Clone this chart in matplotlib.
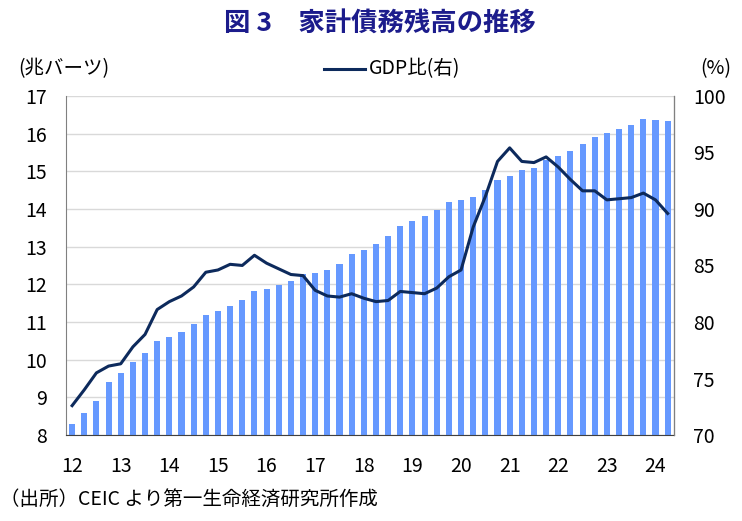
import numpy as np
import matplotlib.pyplot as plt

plt.rcParams['font.family'] = ['Noto Sans CJK JP', 'DejaVu Sans']

# quarterly, 2012Q1 - 2024Q2
debt = [8.28, 8.59, 8.89, 9.42, 9.64, 9.94, 10.17, 10.50, 10.61, 10.74,
        10.94, 11.19, 11.30, 11.43, 11.58, 11.82, 11.88, 11.99, 12.10, 12.27,
        12.30, 12.38, 12.55, 12.80, 12.90, 13.06, 13.27, 13.55, 13.68, 13.80,
        13.96, 14.19, 14.24, 14.31, 14.50, 14.76, 14.87, 15.03, 15.09, 15.30,
        15.41, 15.54, 15.73, 15.92, 16.01, 16.12, 16.23, 16.39, 16.36, 16.34]
gdp_ratio = [72.6, 74.0, 75.5, 76.1, 76.3, 77.8, 78.9, 81.1, 81.8, 82.3,
             83.1, 84.4, 84.6, 85.1, 85.0, 85.9, 85.2, 84.7, 84.2, 84.1,
             82.8, 82.3, 82.2, 82.5, 82.1, 81.8, 81.9, 82.7, 82.6, 82.5,
             83.0, 84.0, 84.6, 88.4, 91.1, 94.2, 95.4, 94.2, 94.1, 94.6,
             93.7, 92.6, 91.6, 91.6, 90.8, 90.9, 91.0, 91.4, 90.8, 89.6]
year_labels = ['12', '13', '14', '15', '16', '17', '18', '19', '20', '21', '22', '23', '24']

x = np.arange(len(debt))

fig = plt.figure(figsize=(7.42, 5.21), dpi=100)
ax = fig.add_axes([0.089, 0.165, 0.819, 0.651])
ax2 = ax.twinx()

ax.bar(x, np.array(debt) - 8, bottom=8, width=0.5, color='#6699FF', zorder=2)
ax2.plot(x, gdp_ratio, color='#0D2A5C', lw=2.2, zorder=3)

ax.set_xlim(-0.5, len(debt) - 0.5)
ax.set_ylim(8, 17)
ax.set_yticks(range(8, 18))
ax2.set_ylim(70, 100)
ax2.set_yticks(range(70, 101, 5))

ax.set_xticks(np.arange(0, len(debt), 4))
ax.set_xticklabels(year_labels)

ax.grid(axis='y', color='#d9d9d9', lw=1, zorder=0)
ax.set_axisbelow(True)

for a in (ax, ax2):
    a.spines['top'].set_visible(False)
ax.spines['left'].set_color('#808080')
ax2.spines['left'].set_visible(False)
ax2.spines['right'].set_color('#808080')
ax2.spines['bottom'].set_visible(False)
ax.spines['bottom'].set_color('#404040')

ax.tick_params(axis='y', length=0, pad=14, labelsize=14)
ax2.tick_params(axis='y', length=0, pad=14, labelsize=14)
ax.tick_params(axis='x', direction='in', length=4, color='#404040', pad=15, labelsize=14)

fig.text(0.512, 0.955, '図 3　家計債務残高の推移', ha='center', va='center',
         fontsize=19, fontweight='bold', color='#1C1C8C')
fig.text(0.025, 0.868, '(兆バーツ)', ha='left', va='center', fontsize=14)
fig.text(0.985, 0.868, '(%)', ha='right', va='center', fontsize=14)
fig.lines.append(plt.Line2D([0.437, 0.492], [0.868, 0.868], color='#0D2A5C', lw=2.2,
                            transform=fig.transFigure))
fig.text(0.497, 0.868, 'GDP比(右)', ha='left', va='center', fontsize=14)
fig.text(0.0, 0.04, '（出所）CEIC より第一生命経済研究所作成', ha='left', va='center', fontsize=14)

fig.savefig('out.png', dpi=100)
